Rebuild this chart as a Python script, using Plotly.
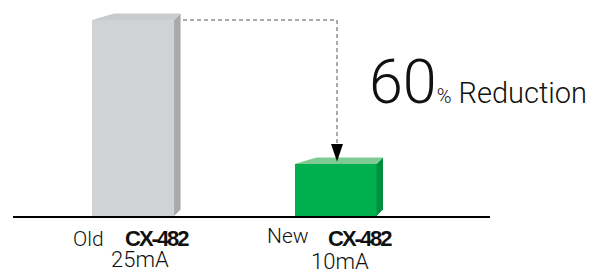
import plotly.graph_objects as go

# ---- data ----
categories = ["Old", "New"]
models = ["CX-482", "CX-482"]
currents_mA = [25, 10]
current_labels = ["25mA", "10mA"]
reduction_pct = 60
reduction_word = "Reduction"

# ---- style ----
front_colors = ["#d1d2d4", "#00b04f"]
side_colors = ["#a7a9ac", "#008f3f"]
top_colors = ["#c9cacc", "#7fca93"]

PAGE_OFF = 8                     # page body margin
W, H = 601 - PAGE_OFF, 274 - PAGE_OFF
ML, MR, MT, MB = 5, 111, 0, 58
pw, ph = W - ML - MR, H - MT - MB
x_range = [-0.593, 1.763]
y_range = [4.58, 26.25]          # truncated value axis, as drawn
bar_width = 0.405
xs = list(range(len(categories)))

def dx(px):
    return px * (x_range[1] - x_range[0]) / pw

def dy(px):
    return px * (y_range[1] - y_range[0]) / ph

def px_x(p):
    return (p - PAGE_OFF - ML) / pw

def px_y(p):
    return (H - MB - (p - PAGE_OFF)) / ph

fig = go.Figure()
fig.add_bar(x=xs, y=currents_mA, width=bar_width,
            marker=dict(color=front_colors, line=dict(width=0)),
            hoverinfo="skip")

base = y_range[0]
shapes = []
side_dx, left_dx, depth = 6.5, 22, 6.5
for x, v, sc, tc in zip(xs, currents_mA, side_colors, top_colors):
    xl, xr = x - bar_width / 2, x + bar_width / 2
    side = (f"M {xr},{base} L {xr},{v} L {xr + dx(side_dx)},{v + dy(depth)} "
            f"L {xr + dx(side_dx)},{base + dy(depth)} Z")
    top = (f"M {xl},{v} L {xr},{v} L {xr + dx(side_dx)},{v + dy(depth)} "
           f"L {xl + dx(left_dx)},{v + dy(depth)} Z")
    shapes.append(dict(type="path", path=side, xref="x", yref="y",
                       fillcolor=sc, line=dict(width=0), layer="above"))
    shapes.append(dict(type="path", path=top, xref="x", yref="y",
                       fillcolor=tc, line=dict(width=0), layer="above"))

# dashed connector + arrow from old bar to new bar
x_old_edge = xs[0] + bar_width / 2 + dx(9)
x_arrow = xs[1] + dx(1.5)
y_arrow_top = currents_mA[1] + dy(20)
y_arrow_tip = currents_mA[1] + dy(2.5)
shapes.append(dict(type="path", xref="x", yref="y",
                   path=f"M {x_old_edge},{currents_mA[0]} L {x_arrow},{currents_mA[0]} L {x_arrow},{y_arrow_top}",
                   line=dict(color="#555555", width=1, dash="4px,3px")))
shapes.append(dict(type="path", xref="x", yref="y",
                   path=f"M {x_arrow - dx(6)},{y_arrow_top} L {x_arrow + dx(6)},{y_arrow_top} L {x_arrow},{y_arrow_tip} Z",
                   fillcolor="black", line=dict(width=0)))

annotations = []
light_font = "Roboto, Liberation Sans, sans-serif"
bold_font = "Liberation Sans, Arial, sans-serif"
pre_dx, pre_dy = [-45, -48], [-22.5, -19.5]
mod_dx, mod_dy = [23.5, 24.5], [-22, -22.5]
cur_dx, cur_dy = [6.5, 4.5], [-43, -45]
for i, x in enumerate(xs):
    annotations.append(dict(x=x, y=0, xref="x", yref="paper", text=categories[i], showarrow=False,
                            xshift=pre_dx[i], yshift=pre_dy[i], xanchor="center", yanchor="middle",
                            font=dict(family=light_font, size=21, color="#111", weight=300)))
    annotations.append(dict(x=x, y=0, xref="x", yref="paper",
                            text=f"<span style='letter-spacing:-2px'><b>{models[i]}</b></span>",
                            showarrow=False,
                            xshift=mod_dx[i], yshift=mod_dy[i], xanchor="center", yanchor="middle",
                            font=dict(family=bold_font, size=22, color="#111")))
    annotations.append(dict(x=x, y=0, xref="x", yref="paper", text=current_labels[i], showarrow=False,
                            xshift=cur_dx[i], yshift=cur_dy[i], xanchor="center", yanchor="middle",
                            font=dict(family=light_font, size=22, color="#111", weight=300)))

annotations.append(dict(
    x=px_x(367), y=px_y(82.5), xref="paper", yref="paper", showarrow=False,
    xanchor="left", yanchor="middle",
    text=(f"<span style='font-size:61px'>{reduction_pct}</span>"
          f"<span style='font-size:20px'>%</span> {reduction_word}"),
    font=dict(family=light_font, size=29, color="#111", weight=300)))

fig.update_layout(
    width=W, height=H, margin=dict(l=ML, r=MR, t=MT, b=MB),
    paper_bgcolor="white", plot_bgcolor="white",
    showlegend=False, bargap=0,
    xaxis=dict(range=x_range, showgrid=False, zeroline=False, showticklabels=False,
               ticks="", showline=True, linecolor="black", linewidth=2),
    yaxis=dict(range=y_range, showgrid=False, zeroline=False, showticklabels=False,
               ticks="", showline=False),
    shapes=shapes, annotations=annotations,
)

fig.write_html("out.html")
